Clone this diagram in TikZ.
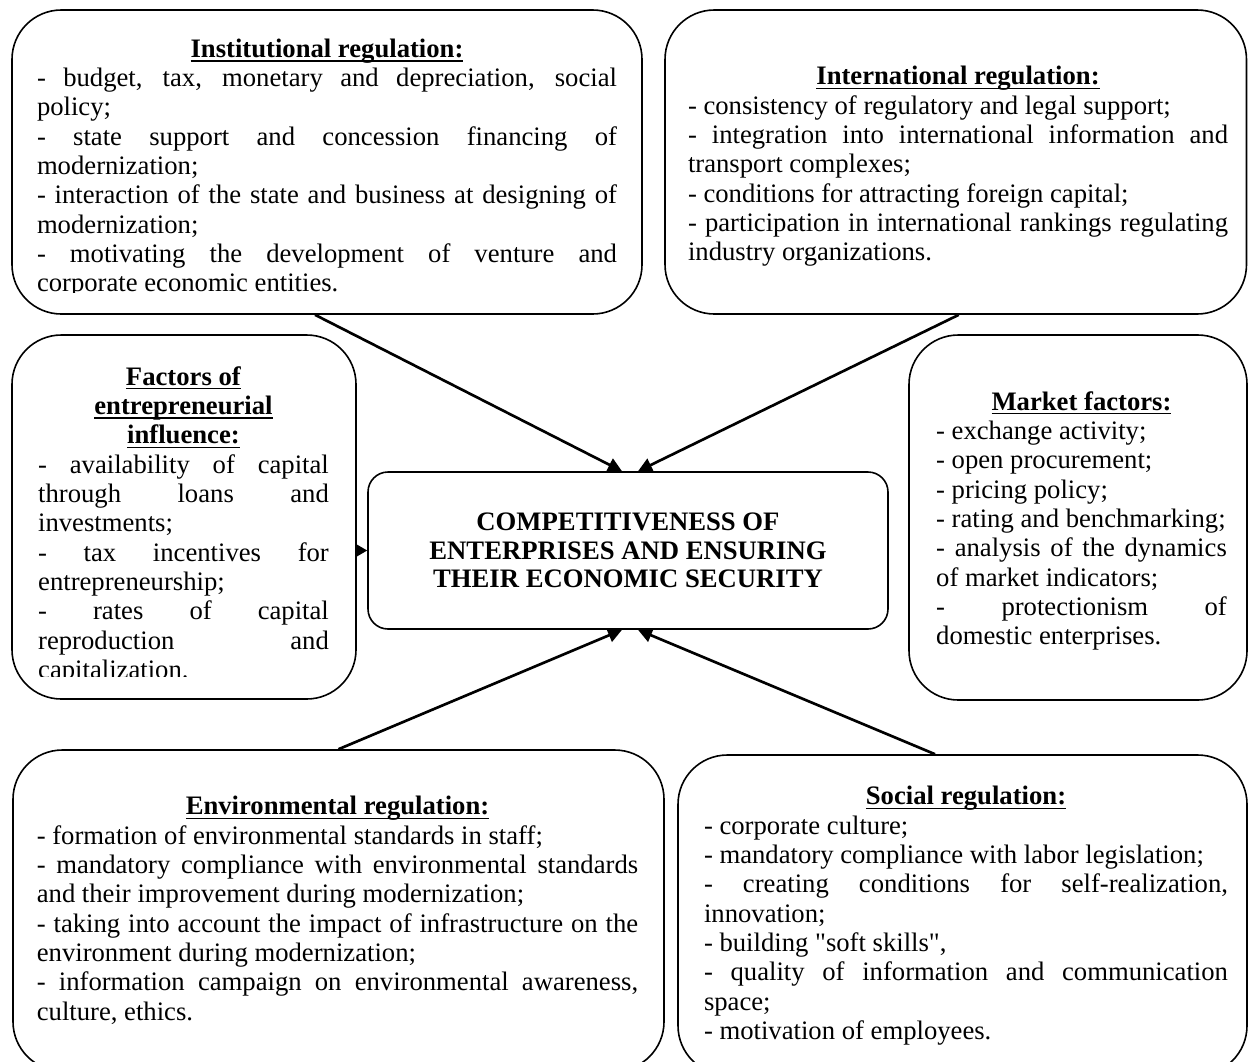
\documentclass[tikz,border=0pt]{standalone}
\usepackage{fontspec}
\setmainfont{Liberation Serif}
\newfontfamily\qfont[Ligatures=TeXOff]{Liberation Serif}
\usetikzlibrary{arrows.meta,calc}
\newcommand{\jl}[1]{\makebox[\linewidth][s]{\spaceskip=0pt\xspaceskip=0pt\relax #1}\\}
\newcommand{\uln}[1]{\setbox0=\hbox{\textbf{#1}}\rlap{\rule[-3.2pt]{\wd0}{1pt}}\box0}
\newcommand{\hd}[1]{\makebox[\linewidth][c]{\uln{#1}}\\}
\newcommand{\prep}{\spaceskip=0pt\xspaceskip=0pt\hyphenpenalty=10000\exhyphenpenalty=10000\relax}
\newcommand{\dq}{{\qfont\symbol{34}}}
\begin{document}
\begin{tikzpicture}[x=0.75pt,y=-0.75pt,
  box/.style={draw, line width=1.2pt, rounded corners=37pt, inner sep=0pt},
  txt/.style={anchor=north, inner sep=0pt, align=left, font=\fontsize{20}{22}\selectfont},
  link/.style={line width=2pt, -{Triangle[length=10.5pt,width=10.5pt]}}]
\useasboundingbox (0,0) rectangle (1248,1061);

% boxes
\node[box, minimum width=472.5pt, minimum height=228pt] (inst) at (327,162) {};
\node[box, minimum width=436.1pt, minimum height=228pt] (intl) at (955.75,162) {};
\node[box, minimum width=258pt, minimum height=273pt] (fact) at (184,517) {};
\node[box, minimum width=253.5pt, minimum height=273.75pt] (mkt) at (1078,517.5) {};
\node[box, minimum width=488.25pt, minimum height=240.75pt] (env) at (338.5,910.5) {};
\node[box, minimum width=426.75pt, minimum height=240pt] (soc) at (962.5,915) {};
\node[draw, line width=1.2pt, rounded corners=15pt, inner sep=0pt,
      minimum width=390pt, minimum height=117.75pt, align=center,
      font=\fontsize{20}{21.3}\selectfont\bfseries] (center) at (628,550.5)
      {COMPETITIVENESS OF\\ENTERPRISES AND ENSURING\\THEIR ECONOMIC SECURITY};

% texts
\begin{scope}
\clip (0,0) rectangle (1248,292);
\node[txt, text width=435pt] (t1) at (327,38.5) {\prep\hd{Institutional regulation:}
\jl{- budget, tax, monetary and depreciation, social}
policy;\\
\jl{- state support and concession financing of}
modernization;\\
\jl{- interaction of the state and business at designing of}
modernization;\\
\jl{- motivating the development of venture and}
corporate economic entities.};
\end{scope}

\node[txt, text width=405pt] (t2) at (958,66) {\prep\hd{International regulation:}
- consistency of regulatory and legal support;\\
\jl{- integration into international information and}
transport complexes;\\
- conditions for attracting foreign capital;\\
\jl{- participation in international rankings regulating}
industry organizations.};

\begin{scope}
\clip (0,0) rectangle (1248,676);
\node[txt, text width=218pt] (t3) at (183.5,366) {\prep\hd{Factors of}
\hd{entrepreneurial}
\hd{influence:}
\jl{- availability of capital}
\jl{through loans and}
investments;\\
\jl{- tax incentives for}
entrepreneurship;\\
\jl{- rates of capital}
\jl{reproduction and}
capitalization.};
\end{scope}

\node[txt, text width=218pt] (t4) at (1081.5,391) {\prep\hd{Market factors:}
- exchange activity;\\
- open procurement;\\
- pricing policy;\\
- rating and benchmarking;\\
\jl{- analysis of the dynamics}
of market indicators;\\
\jl{- protectionism of}
domestic enterprises.};

\node[txt, text width=451pt] (t5) at (337.5,796) {\prep\hd{Environmental regulation:}
- formation of environmental standards in staff;\\
\jl{- mandatory compliance with environmental standards}
and their improvement during modernization;\\
\jl{- taking into account the impact of infrastructure on the}
environment during modernization;\\
\jl{- information campaign on environmental awareness,}
culture, ethics.};

\node[txt, text width=393pt] (t6) at (966,786) {\prep\hd{Social regulation:}
- corporate culture;\\
- mandatory compliance with labor legislation;\\
\jl{- creating conditions for self-realization,}
innovation;\\
- building \dq soft skills\dq,\\
\jl{- quality of information and communication}
space;\\
- motivation of employees.};

% connectors
\draw[link] ($(inst.south)+(-12,0)$) -- ($(center.north)+(-6,0)$);
\draw[link] ($(intl.south)+(3,0)$) -- ($(center.north)+(10,0)$);
\draw[link] (env.north) -- ($(center.south)+(-6,0)$);
\draw[link] ($(soc.north)+(-27.5,0)$) -- ($(center.south)+(10,0)$);
\draw[line width=1.2pt, -{Triangle[length=8pt,width=9pt]}] (center.west -| fact.east) -- (center.west);
\end{tikzpicture}
\end{document}
